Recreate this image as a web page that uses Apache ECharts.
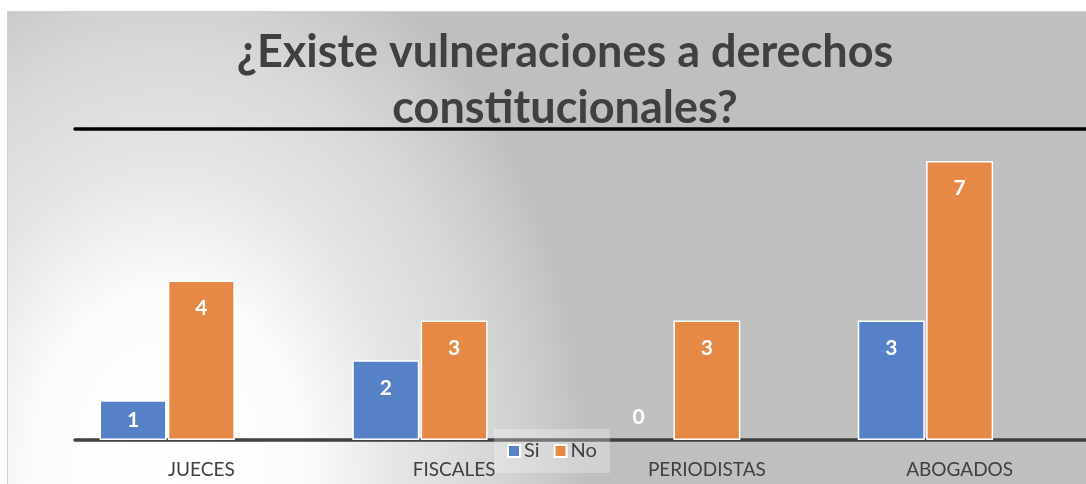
<!DOCTYPE html>
<html lang="es">
<head>
<meta charset="utf-8">
<title>Vulneraciones a derechos constitucionales</title>
<style>
    html, body { margin: 0; padding: 0; width: 1086px; height: 484px; overflow: hidden; background: #fff; }
    #chart {
        position: absolute; left: 7px; top: 11px;
        width: 1078px; height: 472px;
        border-left: 1px solid #d0d0d0; border-top: 1px solid #d0d0d0;
    }
</style>
</head>
<body>
<div id="chart"></div>
<script src="https://cdn.jsdelivr.net/npm/echarts@6/dist/echarts.min.js"></script>
<script>
    // datos
    var categorias = ['JUECES', 'FISCALES', 'PERIODISTAS', 'ABOGADOS'];
    var valoresSi = [1, 2, 0, 3];
    var valoresNo = [4, 3, 3, 7];
    var titulo = '¿Existe vulneraciones a derechos\nconstitucionales?';

    var azul = '#5681c7';
    var naranja = '#e78946';
    var gris = '#404040';

    // el cero va pegado a la base; las barras bajas llevan la etiqueta al centro
    function armar(vals) {
        return vals.map(function (v) {
            if (v === 0) {
                return { value: v, label: { position: 'insideBottom', distance: 12 }, itemStyle: { borderWidth: 0 } };
            }
            if (v < 1.5) {
                return { value: v, label: { position: 'inside' } };
            }
            return v;
        });
    }

    var etiqueta = {
        show: true,
        position: 'insideTop',
        distance: 17,
        color: '#fff',
        fontFamily: 'Lato',
        fontWeight: 'bold',
        fontSize: 21
    };

    var chart = echarts.init(document.getElementById('chart'));
    chart.setOption({
        backgroundColor: '#bfbfbf',
        graphic: [{
            // brillo del fondo, abajo a la izquierda
            type: 'rect', z: -1, silent: true,
            x: 160, y: 462, scaleY: 1.35,
            shape: { x: -170, y: -345, width: 1100, height: 360 },
            style: {
                fill: {
                    type: 'radial', x: 0, y: 0, r: 420, global: true,
                    colorStops: [
                        { offset: 0, color: 'rgba(255,255,255,1)' },
                        { offset: 0.32, color: 'rgba(255,255,255,0.95)' },
                        { offset: 0.55, color: 'rgba(255,255,255,0.6)' },
                        { offset: 0.75, color: 'rgba(255,255,255,0.4)' },
                        { offset: 0.92, color: 'rgba(255,255,255,0.15)' },
                        { offset: 1, color: 'rgba(255,255,255,0)' }
                    ]
                }
            }
        }],
        title: {
            text: titulo,
            left: 552,
            top: 7,
            textAlign: 'center',
            textStyle: { fontFamily: 'Lato', fontWeight: 'bold', fontSize: 45, lineHeight: 56, color: gris }
        },
        legend: {
            data: ['Si', 'No'],
            left: 486,
            top: 417,
            padding: [12, 13],
            backgroundColor: 'rgba(255,255,255,0.28)',
            itemWidth: 12,
            itemHeight: 12,
            itemGap: 14,
            icon: 'rect',
            textStyle: { fontFamily: 'Lato', fontSize: 20, color: gris, padding: [0, 0, 0, -1] }
        },
        grid: { left: 67, right: -1, top: 117, bottom: 44 },
        xAxis: [{
            type: 'category',
            data: categorias,
            axisLine: { lineStyle: { color: gris, width: 3.5 } },
            axisTick: { show: false },
            axisLabel: { margin: 20, fontFamily: 'Lato', fontSize: 19, color: gris }
        }, {
            type: 'category',
            position: 'top',
            data: categorias,
            axisLine: { lineStyle: { color: '#000', width: 3.5 } },
            axisTick: { show: false },
            axisLabel: { show: false }
        }],
        yAxis: {
            type: 'value',
            min: 0,
            max: 7.8,
            show: false,
            splitLine: { show: false }
        },
        series: [{
            name: 'Si',
            type: 'bar',
            data: armar(valoresSi),
            barWidth: 67,
            barGap: '2%',
            itemStyle: { color: azul, borderColor: '#fff', borderWidth: 1.5 },
            label: etiqueta
        }, {
            name: 'No',
            type: 'bar',
            data: armar(valoresNo),
            barWidth: 67,
            barGap: '2%',
            itemStyle: { color: naranja, borderColor: '#fff', borderWidth: 1.5 },
            label: etiqueta
        }, {
            // serie vacía: reserva el tercer hueco del grupo
            name: 'vacio',
            type: 'bar',
            data: [null, null, null, null],
            barWidth: 67,
            barGap: '2%'
        }]
    });
</script>
</body>
</html>
